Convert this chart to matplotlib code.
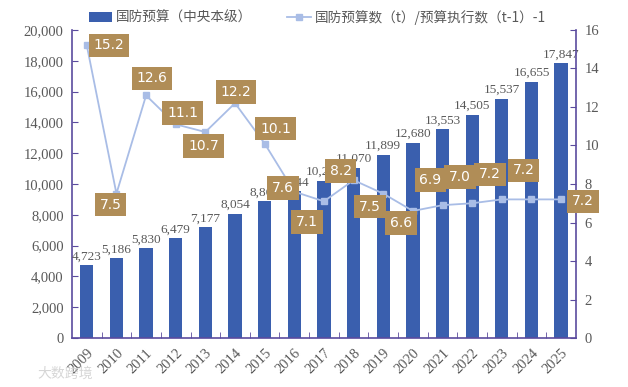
import numpy as np
import matplotlib
matplotlib.use('Agg')
import matplotlib.pyplot as plt
from matplotlib.patches import Patch
from matplotlib.lines import Line2D

plt.rcParams['font.family'] = ['Liberation Serif', 'Noto Sans CJK SC', 'DejaVu Sans']

# Data
years = ['2009', '2010', '2011', '2012', '2013', '2014', '2015', '2016', '2017',
         '2018', '2019', '2020', '2021', '2022', '2023', '2024', '2025']
budget = [4723, 5186, 5830, 6479, 7177, 8054, 8869, 9544, 10226,
          11070, 11899, 12680, 13553, 14505, 15537, 16655, 17847]
growth = [15.2, 7.5, 12.6, 11.1, 10.7, 12.2, 10.1, 7.6, 7.1,
          8.2, 7.5, 6.6, 6.9, 7.0, 7.2, 7.2, 7.2]

# where each growth label box sits relative to its point (pixels)
box_dx = [22, -6, 6, 7, -2, 1, 11, -11, -17, -13, -13, -12, -12, -12, -12, -8, 22]
box_dy = [0, -11, 17, 11, -14, 11, 15, 4, -21, 9, -13, -12, 25, 26, 25, 29, -2]

bar_color = '#3a5fae'
line_color = '#a9bde6'
box_color = '#b08d57'
spine_color = '#5b4b9e'
text_color = '#595959'

fig = plt.figure(figsize=(6.28, 3.87), dpi=100)
ax = fig.add_axes([0.1146, 0.1266, 0.8025, 0.7959])
x = np.arange(len(years))

ax.bar(x, budget, width=0.45, color=bar_color, zorder=2)
for xi, v in zip(x, budget):
    ax.annotate(f'{v:,}', (xi, v), xytext=(0, 2), textcoords='offset points',
                ha='center', va='bottom', fontsize=9.5, color=text_color)

ax.set_xlim(-0.5, len(years) - 0.5)
ax.set_ylim(0, 20000)
ax.set_yticks(np.arange(0, 20001, 2000))
ax.set_yticklabels([f'{v:,}' for v in range(0, 20001, 2000)])
ax.set_xticks(x)
ax.set_xticklabels(years, rotation=45, ha='right', va='top', rotation_mode='anchor')
ax.set_xticks(x[:-1] + 0.5, minor=True)
ax.tick_params(axis='x', which='major', length=0, pad=6, labelsize=10.5, labelcolor=text_color)
ax.tick_params(axis='x', which='minor', direction='in', length=4, color=spine_color)
ax.tick_params(axis='y', direction='in', length=4, color=spine_color, labelsize=10.5,
               labelcolor=text_color, pad=6)
for s in ['left', 'bottom']:
    ax.spines[s].set_color(spine_color)
    ax.spines[s].set_linewidth(1.2)
ax.spines['top'].set_visible(False)
ax.spines['right'].set_visible(False)

ax2 = ax.twinx()
ax2.plot(x, growth, color=line_color, lw=1.3, marker='s', ms=5,
         markerfacecolor=line_color, markeredgecolor=line_color, zorder=3)
ax2.set_ylim(0, 16)
ax2.set_yticks(np.arange(0, 17, 2))
ax2.tick_params(axis='y', direction='in', length=4, color=spine_color, labelsize=10.5,
                labelcolor=text_color, pad=6)
ax2.spines['right'].set_color(spine_color)
ax2.spines['right'].set_linewidth(1.2)
for s in ['top', 'left', 'bottom']:
    ax2.spines[s].set_visible(False)

for xi, v, dx, dy in zip(x, growth, box_dx, box_dy):
    ax2.annotate(f'{v:.1f}', (xi, v), xytext=(dx, dy), textcoords='offset pixels',
                 ha='center', va='center', fontsize=10, color='white',
                 family=['DejaVu Sans'], zorder=5,
                 bbox=dict(boxstyle='square,pad=0.35', fc=box_color, ec='none'))

handles = [Patch(facecolor=bar_color, edgecolor='none'),
           Line2D([0], [0], color=line_color, lw=1.3, marker='s', ms=5)]
labels = ['国防预算（中央本级）', '国防预算数（t）/预算执行数（t-1）-1']
fig.legend(handles, labels, loc='center', bbox_to_anchor=(0.505, 0.955), ncol=2,
           frameon=False, labelcolor=text_color, columnspacing=2.6,
           handlelength=1.7, handletextpad=0.3,
           prop={'family': ['Noto Sans CJK SC'], 'size': 9.8})

fig.text(0.06, 0.025, '大数跨境', fontsize=10, color='#cccccc', alpha=0.8,
         family=['Noto Sans CJK SC'])

fig.savefig('out.png', dpi=100)
